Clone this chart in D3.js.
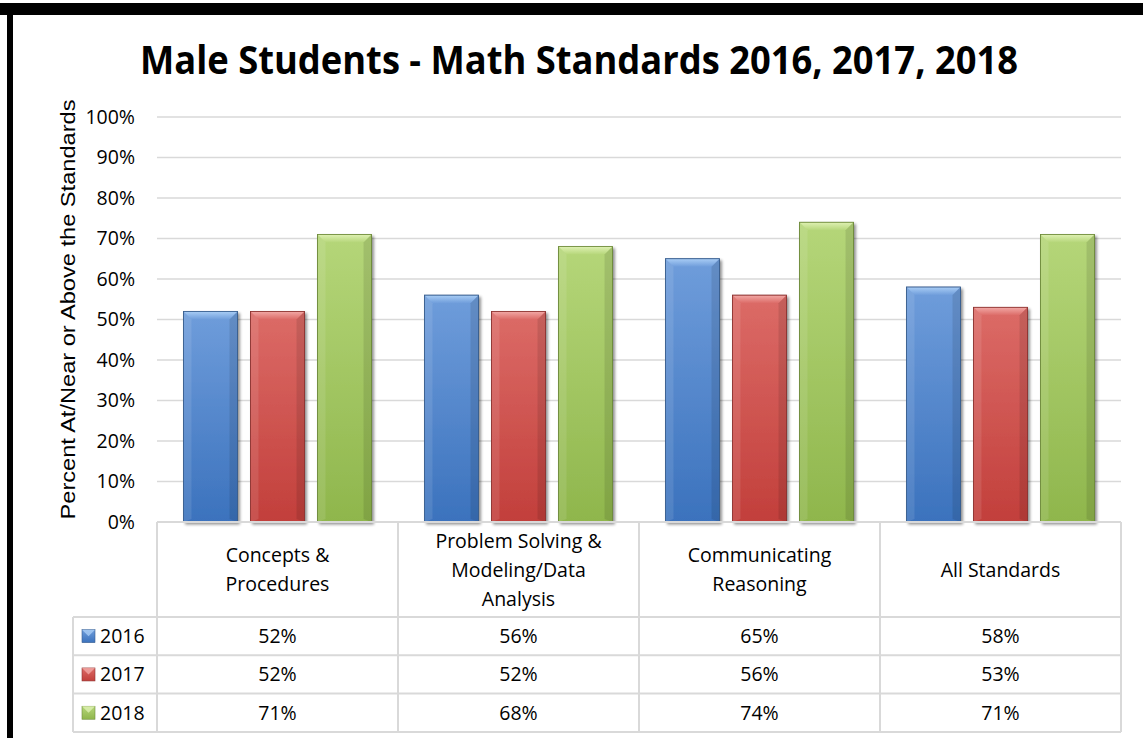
<!DOCTYPE html>
<html>
<head>
<meta charset="utf-8">
<script src="https://cdn.jsdelivr.net/npm/d3@7"></script>
<style>
  html, body { margin: 0; padding: 0; background: #fff; }
  svg { display: block; }
</style>
</head>
<body>
<svg id="chart"></svg>
<script>
const width = 1143;
const height = 738;

// data
const categories = [
  ["Concepts &", "Procedures"],
  ["Problem Solving &", "Modeling/Data", "Analysis"],
  ["Communicating", "Reasoning"],
  ["All Standards"],
];
const years = ["2016", "2017", "2018"];
const values2016 = [52, 56, 65, 58];
const values2017 = [52, 52, 56, 53];
const values2018 = [71, 68, 74, 71];
const yTicks = [0, 10, 20, 30, 40, 50, 60, 70, 80, 90, 100];

const series = [
  { year: years[0], values: values2016, top: "#6f9ddb", bottom: "#3b72bd", bevel: "#a9cdf5", stroke: "#3a5f8f" },
  { year: years[1], values: values2017, top: "#dc6b67", bottom: "#c23f3b", bevel: "#f2a9a6", stroke: "#8e3532" },
  { year: years[2], values: values2018, top: "#b5d679", bottom: "#8fb64c", bevel: "#dff1b3", stroke: "#6f8c3c" },
];

const plotLeft = 157;
const plotRight = 1121;
const plotTop = 117;
const plotBottom = 522;
const headerBottom = 617;
const rowH = 38.3;
const legendLeft = 73;

const svg = d3.select("#chart").attr("width", width).attr("height", height);

const defs = svg.append("defs");

const shadow = defs.append("filter").attr("id", "shadow")
  .attr("x", "-20%").attr("y", "-20%").attr("width", "140%").attr("height", "140%");
shadow.append("feGaussianBlur").attr("in", "SourceAlpha").attr("stdDeviation", 1.6);
shadow.append("feOffset").attr("dx", 2).attr("dy", 2).attr("result", "off");
shadow.append("feComponentTransfer").append("feFuncA").attr("type", "linear").attr("slope", 0.45);
const merge = shadow.append("feMerge");
merge.append("feMergeNode");
merge.append("feMergeNode").attr("in", "SourceGraphic");

series.forEach((s, i) => {
  const g = defs.append("linearGradient").attr("id", "body" + i)
    .attr("x1", 0).attr("y1", 0).attr("x2", 0).attr("y2", 1);
  g.append("stop").attr("offset", "0%").attr("stop-color", s.top);
  g.append("stop").attr("offset", "100%").attr("stop-color", s.bottom);
  const b = defs.append("linearGradient").attr("id", "bevel" + i)
    .attr("x1", 0).attr("y1", 0).attr("x2", 0).attr("y2", 1);
  b.append("stop").attr("offset", "0%").attr("stop-color", s.bevel);
  b.append("stop").attr("offset", "100%").attr("stop-color", s.top);
});

// frame
svg.append("rect").attr("x", 0).attr("y", 3).attr("width", width).attr("height", 12).attr("fill", "#000");
svg.append("rect").attr("x", 7).attr("y", 3).attr("width", 6).attr("height", height).attr("fill", "#000");

// title
svg.append("text")
  .attr("x", 579).attr("y", 74)
  .attr("text-anchor", "middle")
  .attr("font-family", "'Open Sans', sans-serif")
  .attr("font-weight", "bold")
  .attr("font-size", 40)
  .attr("textLength", 878).attr("lengthAdjust", "spacingAndGlyphs")
  .text("Male Students - Math Standards 2016, 2017, 2018");

// scales
const x0 = d3.scaleBand().domain(d3.range(categories.length)).range([plotLeft, plotRight]).paddingInner(0).paddingOuter(0);
const x1 = d3.scaleBand().domain(years).range([0, x0.bandwidth()]).paddingInner(0.194).paddingOuter(0.395);
const y = d3.scaleLinear().domain([0, 100]).range([plotBottom, plotTop]);

// grid
svg.append("g").selectAll("line").data(yTicks.filter((d) => d > 0)).join("line")
  .attr("x1", plotLeft).attr("x2", plotRight)
  .attr("y1", (d) => y(d)).attr("y2", (d) => y(d))
  .attr("stroke", "#d9d9d9").attr("stroke-width", 1.5);

// y axis labels
const yAxis = svg.append("g").attr("transform", `translate(${plotLeft},0)`)
  .call(d3.axisLeft(y).tickValues(yTicks).tickFormat((d) => d + "%").tickSize(0).tickPadding(22));
yAxis.select(".domain").remove();
yAxis.selectAll("text")
  .attr("font-family", "'Open Sans', sans-serif")
  .attr("font-size", 19.5)
  .attr("fill", "#000");

svg.append("text")
  .attr("transform", `translate(75,${(plotTop + plotBottom) / 2 - 10}) rotate(-90)`)
  .attr("text-anchor", "middle")
  .attr("font-family", "'Liberation Sans', Arial, sans-serif")
  .attr("font-size", 21)
  .attr("textLength", 420).attr("lengthAdjust", "spacingAndGlyphs")
  .text("Percent At/Near or Above the Standards");

// bars
const bevel = 8;
series.forEach((s, si) => {
  const gs = svg.append("g").selectAll("g").data(s.values).join("g")
    .attr("transform", (d, i) => `translate(${x0(i) + x1(s.year)},${y(d)})`);
  const w = x1.bandwidth();
  gs.append("rect")
    .attr("width", w).attr("height", (d) => plotBottom - y(d))
    .attr("fill", `url(#body${si})`)
    .attr("stroke", s.stroke).attr("stroke-width", 0.8)
    .attr("filter", "url(#shadow)");
  gs.append("path")
    .attr("d", `M0,0 L${w},0 L${w - bevel},${bevel} L${bevel},${bevel} Z`)
    .attr("fill", `url(#bevel${si})`);
  gs.append("path")
    .attr("d", (d) => `M0,0 L${bevel},${bevel} L${bevel},${plotBottom - y(d) - 3} L0,${plotBottom - y(d)} Z`)
    .attr("fill", "#fff").attr("opacity", 0.1);
  gs.append("path")
    .attr("d", (d) => `M${w},0 L${w - bevel},${bevel} L${w - bevel},${plotBottom - y(d) - 3} L${w},${plotBottom - y(d)} Z`)
    .attr("fill", "#000").attr("opacity", 0.1);
  gs.append("rect")
    .attr("width", w).attr("height", (d) => plotBottom - y(d))
    .attr("fill", "none")
    .attr("stroke", s.stroke).attr("stroke-width", 0.8);
});

// data table
const table = svg.append("g");
const lineColor = "#d9d9d9";
const tableBottom = headerBottom + rowH * years.length;
table.append("line").attr("x1", plotLeft).attr("x2", plotRight).attr("y1", plotBottom).attr("y2", plotBottom)
  .attr("stroke", lineColor).attr("stroke-width", 2);
d3.range(categories.length + 1).forEach((i) => {
  const xx = i < categories.length ? x0(i) : plotRight;
  table.append("line").attr("x1", xx).attr("x2", xx).attr("y1", plotBottom).attr("y2", tableBottom)
    .attr("stroke", lineColor).attr("stroke-width", 2);
});
d3.range(years.length + 1).forEach((r) => {
  const yy = headerBottom + r * rowH;
  table.append("line").attr("x1", legendLeft).attr("x2", plotRight).attr("y1", yy).attr("y2", yy)
    .attr("stroke", lineColor).attr("stroke-width", 2);
});
table.append("line").attr("x1", legendLeft).attr("x2", legendLeft).attr("y1", headerBottom).attr("y2", tableBottom)
  .attr("stroke", lineColor).attr("stroke-width", 2);

const fontTable = "'Open Sans', sans-serif";
const fsTable = 19.5;
const lineH = 29;
categories.forEach((lines, i) => {
  const cx = x0(i) + x0.bandwidth() / 2;
  const cy = (plotBottom + headerBottom) / 2;
  const t = table.append("text")
    .attr("text-anchor", "middle")
    .attr("font-family", fontTable)
    .attr("font-size", fsTable);
  lines.forEach((ln, k) => {
    t.append("tspan").attr("x", cx)
      .attr("y", cy + (k - (lines.length - 1) / 2) * lineH + 7)
      .text(ln);
  });
});

series.forEach((s, si) => {
  const cy = headerBottom + si * rowH + rowH / 2;
  // legend key
  const kx = 82, ks = 13, ky = cy - ks / 2;
  table.append("rect").attr("x", kx).attr("y", ky).attr("width", ks).attr("height", ks)
    .attr("fill", `url(#body${si})`).attr("stroke", s.stroke).attr("stroke-width", 0.6);
  table.append("path")
    .attr("d", `M${kx},${ky} L${kx + ks},${ky} L${kx + ks / 2},${ky + ks / 2} Z`)
    .attr("fill", s.bevel).attr("opacity", 0.8);
  table.append("text").attr("x", 100).attr("y", cy + 7)
    .attr("font-family", fontTable).attr("font-size", fsTable)
    .text(s.year);
  s.values.forEach((v, i) => {
    table.append("text")
      .attr("x", x0(i) + x0.bandwidth() / 2).attr("y", cy + 7)
      .attr("text-anchor", "middle")
      .attr("font-family", fontTable).attr("font-size", fsTable)
      .text(v + "%");
  });
});
</script>
</body>
</html>
